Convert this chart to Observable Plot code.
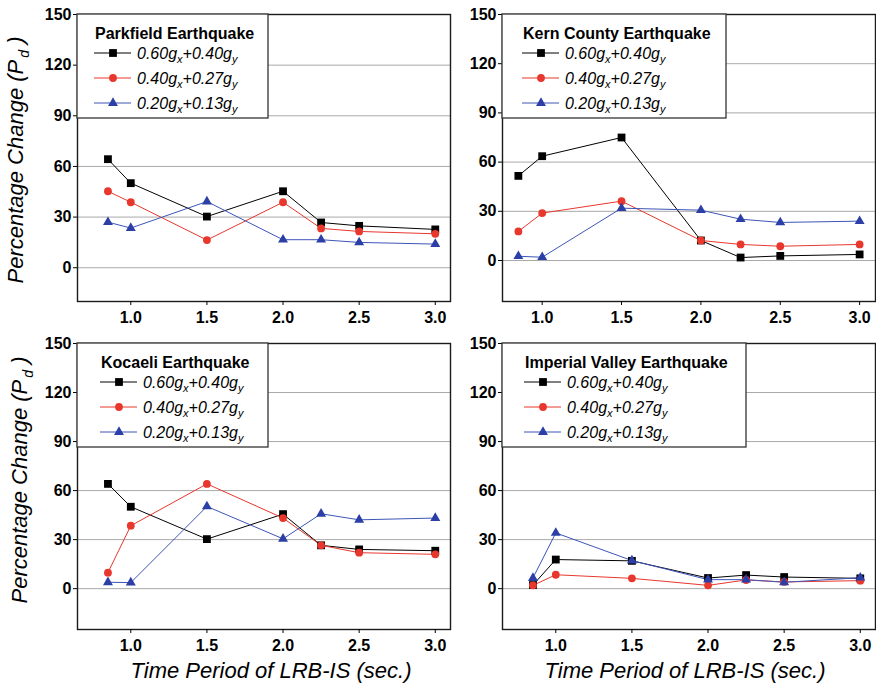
<!DOCTYPE html>
<html>
<head>
<meta charset="utf-8">
<script src="https://cdn.jsdelivr.net/npm/d3@7"></script>
<script src="https://cdn.jsdelivr.net/npm/@observablehq/plot@0.6"></script>
<style>
  html, body { margin: 0; padding: 0; background: #fff; }
  #chart { position: relative; width: 876px; height: 689px; overflow: hidden; background: #fff; }
  #chart > div { position: absolute; }
  svg { overflow: visible; }
</style>
</head>
<body>
<div id="chart"></div>
<script>
// ---------------- data ----------------
const periods = [0.85, 1.0, 1.5, 2.0, 2.25, 2.5, 3.0];
const seriesKeys = ["0.60gx+0.40gy", "0.40gx+0.27gy", "0.20gx+0.13gy"];
const seriesParts = [["0.60g", "x", "+0.40g", "y"], ["0.40g", "x", "+0.27g", "y"], ["0.20g", "x", "+0.13g", "y"]];
const xTicks = [1.0, 1.5, 2.0, 2.5, 3.0];
const yTicks = [0, 30, 60, 90, 120, 150];
const panelTitles = ["Parkfield Earthquake", "Kern County Earthquake", "Kocaeli Earthquake", "Imperial Valley Earthquake"];

const parkfieldHigh = [64.3, 50.1, 30.3, 45.3, 26.8, 24.8, 22.7];
const parkfieldMid  = [45.3, 38.8, 16.4, 38.8, 23.3, 21.5, 20.1];
const parkfieldLow  = [27.0, 23.5, 39.2, 16.6, 16.6, 15.0, 14.0];

const kernHigh = [51.6, 63.6, 75.0, 12.2, 1.8, 2.8, 3.7];
const kernMid  = [17.7, 28.9, 36.2, 12.2, 9.8, 8.7, 9.8];
const kernLow  = [2.6, 2.0, 31.9, 30.7, 25.2, 23.2, 24.0];

const kocaeliHigh = [64.1, 50.1, 30.3, 45.6, 26.5, 24.0, 23.2];
const kocaeliMid  = [9.8, 38.5, 64.1, 43.2, 26.5, 22.0, 21.0];
const kocaeliLow  = [3.9, 3.7, 50.3, 30.5, 45.8, 42.1, 43.2];

const imperialHigh = [2.2, 17.8, 17.0, 6.5, 8.3, 7.1, 6.3];
const imperialMid  = [2.0, 8.5, 6.3, 2.0, 5.3, 4.1, 4.9];
const imperialLow  = [6.5, 34.1, 17.2, 5.5, 5.5, 3.9, 6.7];

// ---------------- styling ----------------
const FONT = "'Liberation Sans', Arial, Helvetica, sans-serif";
const styles = [
  {color: "#000000", line: "#000000", symbol: "square", r: 4.4},
  {color: "#e8372d", line: "#e8372d", symbol: "circle", r: 3.9},
  {color: "#2b3fa6", line: "#3d55b8", symbol: "triangle", r: 3.7}
];

function rows(high, mid, low) {
  const out = [];
  [high, mid, low].forEach((vals, si) => {
    vals.forEach((v, i) => out.push({period: periods[i], value: v, series: seriesKeys[si]}));
  });
  return out;
}

const panels = [
  {title: panelTitles[0], data: rows(parkfieldHigh, parkfieldMid, parkfieldLow),
   left: 0, top: 0, width: 460, height: 330, mL: 77, mR: 10, mT: 14, mB: 29,
   xDomain: [0.65, 3.1], yDomain: [-20, 150], legW: 191, legPad: 18,
   yLabel: {x: 23, y: 160}, xLabel: null},
  {title: panelTitles[1], data: rows(kernHigh, kernMid, kernLow),
   left: 460, top: 0, width: 416, height: 330, mL: 42, mR: 1, mT: 14, mB: 29,
   xDomain: [0.75, 3.1], yDomain: [-25, 150], legW: 224, legPad: 21,
   yLabel: null, xLabel: null},
  {title: panelTitles[2], data: rows(kocaeliHigh, kocaeliMid, kocaeliLow),
   left: 0, top: 330, width: 460, height: 359, mL: 77, mR: 10, mT: 13, mB: 60,
   xDomain: [0.65, 3.1], yDomain: [-25, 150], legW: 191, legPad: 24,
   yLabel: {x: 27, y: 150}, xLabel: {x: 271, y: 348}},
  {title: panelTitles[3], data: rows(imperialHigh, imperialMid, imperialLow),
   left: 460, top: 330, width: 416, height: 359, mL: 42, mR: 1, mT: 13, mB: 60,
   xDomain: [0.65, 3.1], yDomain: [-25, 150], legW: 244, legPad: 23,
   yLabel: null, xLabel: {x: 225, y: 348}}
];

const chart = document.getElementById("chart");

panels.forEach(p => {
  const lineMarks = seriesKeys.map((k, i) =>
    Plot.line(p.data.filter(d => d.series === k), {x: "period", y: "value", stroke: styles[i].line, strokeWidth: 1}));
  const dotMarks = seriesKeys.map((k, i) =>
    Plot.dot(p.data.filter(d => d.series === k), {x: "period", y: "value", symbol: styles[i].symbol, r: styles[i].r, fill: styles[i].color, stroke: "none"}));

  const svg = Plot.plot({
    width: p.width, height: p.height,
    marginLeft: p.mL, marginRight: p.mR, marginTop: p.mT, marginBottom: p.mB,
    x: {domain: p.xDomain},
    y: {domain: p.yDomain},
    style: {fontFamily: FONT, fontSize: "16px", fontWeight: "bold", color: "#000", background: "transparent", overflow: "visible"},
    marks: [
      Plot.gridY([0, 30, 60, 90, 120], {stroke: "#a9a9a9", strokeOpacity: 1, strokeWidth: 1}),
      ...lineMarks,
      ...dotMarks,
      Plot.frame({stroke: "#1a1a1a", strokeWidth: 1.4}),
      Plot.axisX({ticks: xTicks, tickFormat: d => d.toFixed(1), tickSize: 4, tickPadding: 6, label: null, stroke: "#000"}),
      Plot.axisY({ticks: yTicks, tickSize: 4, tickPadding: 2, label: null, stroke: "#000"})
    ]
  });

  const wrap = document.createElement("div");
  wrap.style.left = p.left + "px";
  wrap.style.top = p.top + "px";
  wrap.appendChild(svg);
  chart.appendChild(wrap);

  const s = d3.select(svg);

  // legend box (top-left corner of the frame)
  const lx = p.mL, ly = p.mT;
  const g = s.append("g").attr("transform", `translate(${lx},${ly})`).attr("text-anchor", "start");
  g.append("rect").attr("x", 0).attr("y", 0).attr("width", p.legW).attr("height", 104)
    .attr("fill", "#fff").attr("stroke", "#333").attr("stroke-width", 1.3);
  g.append("text").attr("x", p.legPad).attr("y", 25).attr("text-anchor", "start")
    .attr("font-family", FONT).attr("font-size", 16).attr("font-weight", "bold").attr("fill", "#000")
    .text(p.title);
  seriesKeys.forEach((k, i) => {
    const cy = 39 + i * 25;
    const st = styles[i];
    g.append("line").attr("x1", p.legPad - 1).attr("x2", p.legPad + 36).attr("y1", cy).attr("y2", cy)
      .attr("stroke", st.line).attr("stroke-width", 1);
    const sym = {square: d3.symbolSquare, circle: d3.symbolCircle, triangle: d3.symbolTriangle}[st.symbol];
    g.append("path").attr("d", d3.symbol(sym, Math.PI * st.r * st.r)())
      .attr("transform", `translate(${p.legPad + 18},${cy})`).attr("fill", st.color);
    const parts = seriesParts[i];
    const t = g.append("text").attr("x", p.legPad + 42).attr("y", cy + 6).attr("text-anchor", "start")
      .attr("font-family", FONT).attr("font-size", 16).attr("font-style", "italic").attr("font-weight", "normal").attr("fill", "#000");
    t.append("tspan").text(parts[0]);
    t.append("tspan").attr("font-size", 11).attr("dy", 4).text(parts[1]);
    t.append("tspan").attr("dy", -4).text(parts[2]);
    t.append("tspan").attr("font-size", 11).attr("dy", 4).text(parts[3]);
  });

  if (p.yLabel) {
    const t = s.append("text")
      .attr("transform", `translate(${p.yLabel.x},${p.yLabel.y}) rotate(-90)`)
      .attr("text-anchor", "middle")
      .attr("font-family", FONT).attr("font-size", 22).attr("font-style", "italic").attr("font-weight", "normal").attr("fill", "#000");
    t.append("tspan").text("Percentage Change (P");
    t.append("tspan").attr("font-size", 14).attr("dy", 6).attr("dx", 2).text("d");
    t.append("tspan").attr("dy", -6).text(" )");
  }
  if (p.xLabel) {
    s.append("text").attr("x", p.xLabel.x).attr("y", p.xLabel.y)
      .attr("text-anchor", "middle")
      .attr("font-family", FONT).attr("font-size", 22).attr("font-style", "italic").attr("font-weight", "normal").attr("fill", "#000")
      .text("Time Period of LRB-IS (sec.)");
  }
});
</script>
</body>
</html>
